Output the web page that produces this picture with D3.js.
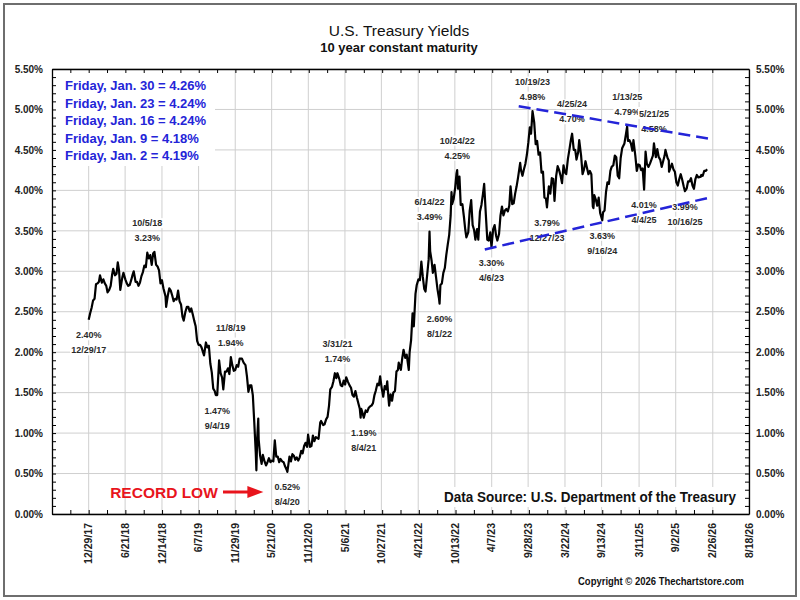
<!DOCTYPE html>
<html>
<head>
<meta charset="utf-8">
<script src="https://cdn.jsdelivr.net/npm/d3@7"></script>
<style>
body { margin: 0; background: #fff; }
svg { display: block; font-family: "Liberation Sans", Arial, sans-serif; }
</style>
</head>
<body>
<div id="chart"></div>
<script>

// x axis labels (dates as printed on the chart)
const tickLabels = ["12/29/17", "6/21/18", "12/14/18", "6/7/19", "11/29/19", "5/21/20", "11/12/20",
	"5/6/21", "10/27/21", "4/21/22", "10/13/22", "4/7/23", "9/28/23", "3/22/24", "9/13/24",
	"3/11/25", "9/2/25", "2/26/26", "8/18/26"];

// 10 year constant maturity yield, %
const tenYear = [
	["2017-12-29", 2.40], ["2018-01-05", 2.48], ["2018-01-12", 2.55], ["2018-01-19", 2.64], ["2018-01-26", 2.66],
	["2018-02-02", 2.84], ["2018-02-09", 2.85], ["2018-02-16", 2.87], ["2018-02-21", 2.95], ["2018-03-02", 2.86],
	["2018-03-09", 2.90], ["2018-03-16", 2.85], ["2018-03-23", 2.82], ["2018-03-29", 2.74], ["2018-04-06", 2.77],
	["2018-04-13", 2.82], ["2018-04-20", 2.96], ["2018-04-25", 3.03], ["2018-05-04", 2.95], ["2018-05-11", 2.97],
	["2018-05-17", 3.11], ["2018-05-23", 3.01], ["2018-05-29", 2.77], ["2018-06-08", 2.93], ["2018-06-13", 2.98],
	["2018-06-22", 2.90], ["2018-06-29", 2.85], ["2018-07-06", 2.82], ["2018-07-13", 2.83], ["2018-07-20", 2.89],
	["2018-07-27", 2.96], ["2018-08-01", 3.00], ["2018-08-10", 2.87], ["2018-08-17", 2.87], ["2018-08-24", 2.82],
	["2018-08-31", 2.86], ["2018-09-07", 2.94], ["2018-09-14", 2.99], ["2018-09-21", 3.07], ["2018-09-28", 3.05],
	["2018-10-05", 3.23], ["2018-10-12", 3.16], ["2018-10-19", 3.20], ["2018-10-26", 3.08], ["2018-11-02", 3.22],
	["2018-11-08", 3.24], ["2018-11-16", 3.08], ["2018-11-23", 3.06], ["2018-11-30", 3.01], ["2018-12-07", 2.85],
	["2018-12-14", 2.89], ["2018-12-21", 2.79], ["2018-12-31", 2.69], ["2019-01-03", 2.56], ["2019-01-11", 2.70],
	["2019-01-18", 2.79], ["2019-01-25", 2.76], ["2019-02-01", 2.70], ["2019-02-08", 2.63], ["2019-02-15", 2.66],
	["2019-02-22", 2.65], ["2019-03-01", 2.76], ["2019-03-08", 2.63], ["2019-03-15", 2.59], ["2019-03-22", 2.44],
	["2019-03-28", 2.39], ["2019-04-05", 2.50], ["2019-04-12", 2.56], ["2019-04-19", 2.56], ["2019-04-26", 2.50],
	["2019-05-03", 2.54], ["2019-05-10", 2.47], ["2019-05-17", 2.39], ["2019-05-24", 2.32], ["2019-05-31", 2.14],
	["2019-06-07", 2.09], ["2019-06-14", 2.09], ["2019-06-21", 2.06], ["2019-06-28", 2.00], ["2019-07-03", 1.96],
	["2019-07-12", 2.12], ["2019-07-19", 2.06], ["2019-07-26", 2.08], ["2019-08-02", 1.86], ["2019-08-09", 1.75],
	["2019-08-16", 1.55], ["2019-08-23", 1.52], ["2019-08-28", 1.47], ["2019-09-04", 1.47], ["2019-09-13", 1.90],
	["2019-09-20", 1.74], ["2019-09-27", 1.69], ["2019-10-03", 1.54], ["2019-10-11", 1.76], ["2019-10-18", 1.76],
	["2019-10-25", 1.80], ["2019-11-01", 1.73], ["2019-11-08", 1.94], ["2019-11-15", 1.84], ["2019-11-22", 1.77],
	["2019-11-29", 1.78], ["2019-12-06", 1.84], ["2019-12-13", 1.82], ["2019-12-20", 1.92], ["2019-12-31", 1.92],
	["2020-01-08", 1.87], ["2020-01-17", 1.84], ["2020-01-24", 1.70], ["2020-01-31", 1.51], ["2020-02-07", 1.59],
	["2020-02-14", 1.59], ["2020-02-21", 1.47], ["2020-02-28", 1.13], ["2020-03-06", 0.76], ["2020-03-09", 0.54],
	["2020-03-13", 0.94], ["2020-03-18", 1.18], ["2020-03-20", 0.92], ["2020-03-27", 0.72], ["2020-04-03", 0.62],
	["2020-04-09", 0.73], ["2020-04-17", 0.65], ["2020-04-24", 0.60], ["2020-05-01", 0.64], ["2020-05-08", 0.69],
	["2020-05-15", 0.64], ["2020-05-22", 0.66], ["2020-05-29", 0.65], ["2020-06-05", 0.91], ["2020-06-12", 0.71],
	["2020-06-19", 0.71], ["2020-06-26", 0.64], ["2020-07-02", 0.68], ["2020-07-10", 0.65], ["2020-07-17", 0.64],
	["2020-07-24", 0.59], ["2020-07-31", 0.55], ["2020-08-04", 0.52], ["2020-08-14", 0.71], ["2020-08-21", 0.65],
	["2020-08-28", 0.74], ["2020-09-04", 0.72], ["2020-09-11", 0.67], ["2020-09-18", 0.70], ["2020-09-25", 0.66],
	["2020-10-02", 0.70], ["2020-10-09", 0.78], ["2020-10-16", 0.75], ["2020-10-23", 0.84], ["2020-10-30", 0.88],
	["2020-11-06", 0.83], ["2020-11-11", 0.98], ["2020-11-20", 0.83], ["2020-11-27", 0.84], ["2020-12-04", 0.97],
	["2020-12-11", 0.90], ["2020-12-18", 0.95], ["2020-12-31", 0.93], ["2021-01-08", 1.13], ["2021-01-12", 1.15],
	["2021-01-22", 1.10], ["2021-01-29", 1.11], ["2021-02-05", 1.17], ["2021-02-12", 1.20], ["2021-02-19", 1.34],
	["2021-02-25", 1.54], ["2021-03-05", 1.57], ["2021-03-12", 1.64], ["2021-03-19", 1.74], ["2021-03-26", 1.68],
	["2021-03-31", 1.74], ["2021-04-09", 1.67], ["2021-04-16", 1.59], ["2021-04-23", 1.58], ["2021-04-30", 1.65],
	["2021-05-07", 1.60], ["2021-05-12", 1.69], ["2021-05-21", 1.63], ["2021-05-28", 1.59], ["2021-06-04", 1.56],
	["2021-06-11", 1.47], ["2021-06-18", 1.45], ["2021-06-25", 1.52], ["2021-07-02", 1.44], ["2021-07-09", 1.37],
	["2021-07-16", 1.30], ["2021-07-20", 1.19], ["2021-07-23", 1.30], ["2021-07-30", 1.24], ["2021-08-04", 1.19],
	["2021-08-13", 1.28], ["2021-08-20", 1.26], ["2021-08-27", 1.31], ["2021-09-03", 1.33], ["2021-09-10", 1.34],
	["2021-09-17", 1.37], ["2021-09-24", 1.47], ["2021-09-30", 1.52], ["2021-10-08", 1.61], ["2021-10-15", 1.59],
	["2021-10-21", 1.70], ["2021-10-29", 1.55], ["2021-11-05", 1.45], ["2021-11-12", 1.58], ["2021-11-19", 1.54],
	["2021-11-24", 1.64], ["2021-11-30", 1.43], ["2021-12-03", 1.34], ["2021-12-10", 1.48], ["2021-12-17", 1.40],
	["2021-12-23", 1.50], ["2021-12-31", 1.52], ["2022-01-07", 1.76], ["2022-01-14", 1.78], ["2022-01-18", 1.87],
	["2022-01-28", 1.78], ["2022-02-04", 1.93], ["2022-02-10", 2.03], ["2022-02-18", 1.93], ["2022-02-25", 1.97],
	["2022-03-07", 1.78], ["2022-03-11", 2.00], ["2022-03-18", 2.15], ["2022-03-25", 2.48], ["2022-03-31", 2.32],
	["2022-04-08", 2.72], ["2022-04-14", 2.83], ["2022-04-22", 2.90], ["2022-04-29", 2.89], ["2022-05-06", 3.12],
	["2022-05-13", 2.93], ["2022-05-20", 2.78], ["2022-05-26", 2.75], ["2022-06-03", 2.96], ["2022-06-10", 3.15],
	["2022-06-14", 3.49], ["2022-06-17", 3.25], ["2022-06-24", 3.13], ["2022-06-30", 2.98], ["2022-07-08", 3.08],
	["2022-07-15", 2.93], ["2022-07-22", 2.78], ["2022-07-29", 2.67], ["2022-08-01", 2.60], ["2022-08-05", 2.83],
	["2022-08-12", 2.85], ["2022-08-19", 2.98], ["2022-08-26", 3.04], ["2022-09-02", 3.20], ["2022-09-09", 3.33],
	["2022-09-16", 3.45], ["2022-09-23", 3.69], ["2022-09-27", 3.98], ["2022-09-30", 3.83], ["2022-10-07", 3.89],
	["2022-10-14", 4.02], ["2022-10-21", 4.21], ["2022-10-24", 4.25], ["2022-10-28", 4.02], ["2022-11-04", 4.17],
	["2022-11-10", 3.82], ["2022-11-18", 3.83], ["2022-11-25", 3.68], ["2022-12-02", 3.51], ["2022-12-07", 3.42],
	["2022-12-16", 3.48], ["2022-12-23", 3.75], ["2022-12-30", 3.88], ["2023-01-06", 3.57], ["2023-01-13", 3.51],
	["2023-01-19", 3.39], ["2023-01-27", 3.52], ["2023-02-02", 3.39], ["2023-02-10", 3.74], ["2023-02-17", 3.82],
	["2023-02-24", 3.95], ["2023-03-02", 4.08], ["2023-03-10", 3.70], ["2023-03-17", 3.39], ["2023-03-24", 3.38],
	["2023-03-31", 3.48], ["2023-04-06", 3.30], ["2023-04-14", 3.52], ["2023-04-21", 3.57], ["2023-04-28", 3.44],
	["2023-05-04", 3.38], ["2023-05-12", 3.46], ["2023-05-19", 3.69], ["2023-05-26", 3.80], ["2023-06-02", 3.69],
	["2023-06-09", 3.75], ["2023-06-16", 3.77], ["2023-06-23", 3.74], ["2023-06-30", 3.81], ["2023-07-06", 4.05],
	["2023-07-14", 3.83], ["2023-07-21", 3.84], ["2023-07-28", 3.96], ["2023-08-04", 4.05], ["2023-08-11", 4.16],
	["2023-08-21", 4.34], ["2023-08-25", 4.25], ["2023-09-01", 4.18], ["2023-09-08", 4.26], ["2023-09-15", 4.33],
	["2023-09-22", 4.44], ["2023-09-29", 4.59], ["2023-10-06", 4.78], ["2023-10-12", 4.70], ["2023-10-19", 4.98],
	["2023-10-27", 4.84], ["2023-11-03", 4.57], ["2023-11-10", 4.61], ["2023-11-17", 4.44], ["2023-11-24", 4.47],
	["2023-12-01", 4.22], ["2023-12-08", 4.23], ["2023-12-15", 3.91], ["2023-12-22", 3.90], ["2023-12-27", 3.79],
	["2024-01-05", 4.05], ["2024-01-12", 3.96], ["2024-01-19", 4.15], ["2024-01-26", 4.14], ["2024-02-01", 3.87],
	["2024-02-09", 4.18], ["2024-02-16", 4.30], ["2024-02-23", 4.25], ["2024-03-01", 4.18], ["2024-03-08", 4.09],
	["2024-03-15", 4.31], ["2024-03-22", 4.22], ["2024-03-28", 4.20], ["2024-04-05", 4.39], ["2024-04-12", 4.50],
	["2024-04-19", 4.62], ["2024-04-25", 4.70], ["2024-05-03", 4.50], ["2024-05-10", 4.50], ["2024-05-16", 4.38],
	["2024-05-24", 4.47], ["2024-05-29", 4.62], ["2024-06-07", 4.43], ["2024-06-14", 4.20], ["2024-06-21", 4.26],
	["2024-06-28", 4.36], ["2024-07-05", 4.28], ["2024-07-12", 4.20], ["2024-07-19", 4.24], ["2024-07-26", 4.20],
	["2024-08-02", 3.80], ["2024-08-05", 3.78], ["2024-08-09", 3.94], ["2024-08-16", 3.89], ["2024-08-23", 3.81],
	["2024-08-30", 3.91], ["2024-09-06", 3.72], ["2024-09-16", 3.63], ["2024-09-20", 3.73], ["2024-09-27", 3.75],
	["2024-10-04", 3.98], ["2024-10-11", 4.10], ["2024-10-18", 4.08], ["2024-10-25", 4.24], ["2024-10-31", 4.29],
	["2024-11-08", 4.31], ["2024-11-15", 4.43], ["2024-11-22", 4.41], ["2024-11-29", 4.18], ["2024-12-06", 4.15],
	["2024-12-13", 4.40], ["2024-12-20", 4.52], ["2024-12-31", 4.58], ["2025-01-07", 4.69], ["2025-01-13", 4.79],
	["2025-01-17", 4.61], ["2025-01-24", 4.62], ["2025-01-31", 4.58], ["2025-02-07", 4.49], ["2025-02-12", 4.62],
	["2025-02-21", 4.43], ["2025-02-28", 4.24], ["2025-03-07", 4.32], ["2025-03-14", 4.31], ["2025-03-21", 4.25],
	["2025-03-28", 4.27], ["2025-04-04", 4.01], ["2025-04-11", 4.48], ["2025-04-17", 4.33], ["2025-04-25", 4.29],
	["2025-05-02", 4.33], ["2025-05-09", 4.38], ["2025-05-16", 4.43], ["2025-05-21", 4.58], ["2025-05-30", 4.41],
	["2025-06-06", 4.51], ["2025-06-13", 4.41], ["2025-06-20", 4.38], ["2025-06-27", 4.29], ["2025-07-03", 4.35],
	["2025-07-11", 4.43], ["2025-07-15", 4.50], ["2025-07-25", 4.40], ["2025-07-31", 4.37], ["2025-08-01", 4.23],
	["2025-08-08", 4.28], ["2025-08-15", 4.33], ["2025-08-22", 4.26], ["2025-08-29", 4.23], ["2025-09-05", 4.10],
	["2025-09-12", 4.06], ["2025-09-19", 4.14], ["2025-09-26", 4.20], ["2025-10-03", 4.13], ["2025-10-10", 4.05],
	["2025-10-16", 3.99], ["2025-10-24", 4.02], ["2025-10-31", 4.11], ["2025-11-07", 4.11], ["2025-11-14", 4.15],
	["2025-11-21", 4.06], ["2025-11-28", 4.02], ["2025-12-05", 4.14], ["2025-12-12", 4.19], ["2025-12-19", 4.16],
	["2025-12-31", 4.17], ["2026-01-02", 4.19], ["2026-01-09", 4.18], ["2026-01-16", 4.24], ["2026-01-23", 4.24],
	["2026-01-30", 4.26]
];

// latest Friday readings shown top left
const fridayReadings = ["Friday, Jan. 30 = 4.26%", "Friday, Jan. 23 = 4.24%", "Friday, Jan. 16 = 4.24%",
	"Friday, Jan. 9 = 4.18%", "Friday, Jan. 2 = 4.19%"];

// labelled highs and lows: date, label above or below the line
const callouts = [
	["2017-12-29", "below"], ["2018-10-05", "above"], ["2019-09-04", "below"], ["2019-11-08", "above"],
	["2020-08-04", "below"], ["2021-03-31", "above"], ["2021-08-04", "below"], ["2022-06-14", "above"],
	["2022-08-01", "below"], ["2022-10-24", "above"], ["2023-04-06", "below"], ["2023-10-19", "above"],
	["2023-12-27", "below"], ["2024-04-25", "above"], ["2024-09-16", "below"], ["2025-01-13", "above"],
	["2025-05-21", "above"], ["2025-04-04", "below"], ["2025-10-16", "below"]
];

// dashed channel lines
const upperTrend = [["2023-08-14", 5.04], ["2026-02-26", 4.63]];
const lowerTrend = [["2023-03-05", 3.27], ["2026-02-26", 3.92]];

const recordLowNote = "RECORD LOW";
const sourceNote = "Data Source:  U.S. Department of the Treasury";
const copyrightNote = "Copyright \u00A9 2026 Thechartstore.com";


const W = 800, H = 600;
const plot = { left: 52, right: 749, top: 69, bottom: 514 };
const blue = "#2424d8";

let svg = d3.select("#chart")
	.append("svg")
	.attr("width", W)
	.attr("height", H);

svg.append("rect")
	.attr("width", W).attr("height", H)
	.attr("fill", "#fff");

// outer frame
svg.append("rect")
	.attr("x", 4).attr("y", 4)
	.attr("width", W - 8).attr("height", H - 8)
	.attr("fill", "none")
	.attr("stroke", "#6e6e6e")
	.attr("stroke-width", 2);

let parseDay = d3.timeParse("%Y-%m-%d");
let parseTick = d3.timeParse("%m/%d/%y");
let fmtDay = d3.timeFormat("%-m/%-d/%y");

let tickDates = tickLabels.map(parseTick);
let firstTick = tickDates[0], lastTick = tickDates[tickDates.length - 1];
let step = (lastTick - firstTick) / (tickDates.length - 1);
let start = new Date(+firstTick - step);

let xScale = d3.scaleTime().domain([start, lastTick]).range([plot.left, plot.right]);
let yScale = d3.scaleLinear().domain([0, 5.5]).range([plot.bottom, plot.top]);

let minorDates = d3.range(0, 2 * tickDates.length - 1).map(i => new Date(+start + i * step / 2));

let series = tenYear.map(d => ({ date: parseDay(d[0]), value: d[1] }));
let byDay = new Map(tenYear.map(d => [d[0], d[1]]));

// gridlines
let grid = svg.append("g").attr("stroke", "#cfcfcf").attr("stroke-width", 1);
grid.selectAll("line.v")
	.data(tickDates)
	.join("line")
	.attr("class", "v")
	.attr("x1", d => xScale(d)).attr("x2", d => xScale(d))
	.attr("y1", plot.top).attr("y2", plot.bottom);
grid.selectAll("line.h")
	.data(yScale.ticks(11))
	.join("line")
	.attr("class", "h")
	.attr("x1", plot.left).attr("x2", plot.right)
	.attr("y1", d => yScale(d)).attr("y2", d => yScale(d));

// weekly readings box
svg.append("rect")
	.attr("x", plot.left + 1).attr("y", plot.top + 1)
	.attr("width", 162).attr("height", 96)
	.attr("fill", "#fff");
svg.append("g")
	.selectAll("text")
	.data(fridayReadings)
	.join("text")
	.attr("x", 65)
	.attr("y", (d, i) => 90 + i * 17.5)
	.attr("font-size", 13)
	.attr("font-weight", "bold")
	.attr("fill", blue)
	.text(d => d);

// data source note on a white patch
svg.append("rect")
	.attr("x", 440).attr("y", 487)
	.attr("width", 300).attr("height", 20)
	.attr("fill", "#fff");
svg.append("text")
	.attr("x", 736).attr("y", 502)
	.attr("text-anchor", "end")
	.attr("font-size", 14)
	.attr("font-weight", "bold")
	.attr("fill", "#111")
	.attr("textLength", 292)
	.attr("lengthAdjust", "spacingAndGlyphs")
	.text(sourceNote);

// callout labels
let callG = svg.append("g")
	.attr("font-size", 9)
	.attr("font-weight", "bold")
	.attr("fill", "#2a2a2a")
	.attr("text-anchor", "middle");

callouts.forEach(c => {
	let v = byDay.get(c[0]);
	let d = parseDay(c[0]);
	let px = xScale(d), py = yScale(v);
	let lines = c[1] === "above"
		? [[fmtDay(d), py - 26.5], [v.toFixed(2) + "%", py - 11.5]]
		: [[v.toFixed(2) + "%", py + 18.5], [fmtDay(d), py + 33.5]];
	lines.forEach(l => {
		let t = callG.append("text").attr("x", px).attr("y", l[1]).text(l[0]);
		let bb = t.node().getBBox();
		callG.insert("rect", () => t.node())
			.attr("x", bb.x - 1).attr("y", bb.y)
			.attr("width", bb.width + 2).attr("height", bb.height)
			.attr("fill", "#fff");
	});
});

// record low note with arrow
svg.append("text")
	.attr("x", 164).attr("y", 497.5)
	.attr("text-anchor", "middle")
	.attr("font-size", 15.5)
	.attr("font-weight", "bold")
	.attr("fill", "#e8141c")
	.text(recordLowNote);
let low = series.filter(d => d.date > parseDay("2020-06-01") && d.date < parseDay("2021-01-01"))
	.reduce((a, b) => (b.value < a.value ? b : a));
let ax = xScale(low.date) - 24;
svg.append("line")
	.attr("x1", 223).attr("x2", ax - 14)
	.attr("y1", 492).attr("y2", 492)
	.attr("stroke", "#e8141c")
	.attr("stroke-width", 3);
svg.append("path")
	.attr("d", `M${ax - 16},486 L${ax},492 L${ax - 16},498 Z`)
	.attr("fill", "#e8141c");

// the yield line
svg.append("path")
	.datum(series)
	.attr("d", d3.line()
		.x(d => xScale(d.date))
		.y(d => yScale(d.value)))
	.attr("fill", "none")
	.attr("stroke", "#000")
	.attr("stroke-width", 2.2)
	.attr("stroke-linejoin", "round");

// channel lines
[upperTrend, lowerTrend].forEach(tr => {
	svg.append("path")
		.datum(tr)
		.attr("d", d3.line()
			.x(d => xScale(parseDay(d[0])))
			.y(d => yScale(d[1])))
		.attr("fill", "none")
		.attr("stroke", blue)
		.attr("stroke-width", 2.5)
		.attr("stroke-dasharray", "12,6");
});

// axes
function styleAxis(g) {
	g.selectAll("path.domain").attr("stroke", "#000").attr("stroke-width", 1.3);
	g.selectAll(".tick line").attr("stroke", "#000");
}

svg.append("g")
	.attr("transform", `translate(${plot.left},0)`)
	.call(d3.axisLeft(yScale).ticks(55).tickSize(-4).tickSizeOuter(0).tickFormat(""))
	.call(styleAxis);
svg.append("g")
	.attr("transform", `translate(${plot.right},0)`)
	.call(d3.axisRight(yScale).ticks(55).tickSize(-4).tickSizeOuter(0).tickFormat(""))
	.call(styleAxis);
svg.append("g")
	.attr("transform", `translate(0,${plot.top})`)
	.call(d3.axisTop(xScale).tickValues(minorDates).tickSize(-4).tickSizeOuter(0).tickFormat(""))
	.call(styleAxis);
svg.append("g")
	.attr("transform", `translate(0,${plot.bottom})`)
	.call(d3.axisBottom(xScale).tickValues(minorDates).tickSize(-4).tickSizeOuter(0).tickFormat(""))
	.call(styleAxis);

// y labels on both sides
let yFmt = d => d.toFixed(2) + "%";
[[d3.axisLeft, plot.left, 9], [d3.axisRight, plot.right, 7]].forEach(a => {
	let g = svg.append("g")
		.attr("transform", `translate(${a[1]},0)`)
		.call(a[0](yScale).tickValues(yScale.ticks(11)).tickSize(0).tickPadding(a[2]).tickFormat(yFmt));
	g.select("path.domain").remove();
	g.selectAll("text")
		.attr("font-family", "Liberation Sans, Arial, sans-serif")
		.attr("font-size", 10)
		.attr("font-weight", "bold")
		.attr("fill", "#222");
});

// x labels, rotated
svg.append("g")
	.selectAll("text")
	.data(tickDates)
	.join("text")
	.attr("transform", d => `translate(${xScale(d)},523) rotate(-90)`)
	.attr("dy", "0.35em")
	.attr("text-anchor", "end")
	.attr("font-size", 10.5)
	.attr("font-weight", "bold")
	.attr("fill", "#222")
	.text((d, i) => tickLabels[i]);

// titles
svg.append("text")
	.attr("x", 399).attr("y", 36)
	.attr("text-anchor", "middle")
	.attr("font-size", 15.5)
	.attr("fill", "#111")
	.text("U.S. Treasury Yields");
svg.append("text")
	.attr("x", 399).attr("y", 51.5)
	.attr("text-anchor", "middle")
	.attr("font-size", 13)
	.attr("font-weight", "bold")
	.attr("fill", "#111")
	.text("10 year constant maturity");

svg.append("text")
	.attr("x", 744).attr("y", 585)
	.attr("text-anchor", "end")
	.attr("font-size", 10.5)
	.attr("font-weight", "bold")
	.attr("fill", "#111")
	.attr("textLength", 166)
	.attr("lengthAdjust", "spacingAndGlyphs")
	.text(copyrightNote);

</script>
</body>
</html>
